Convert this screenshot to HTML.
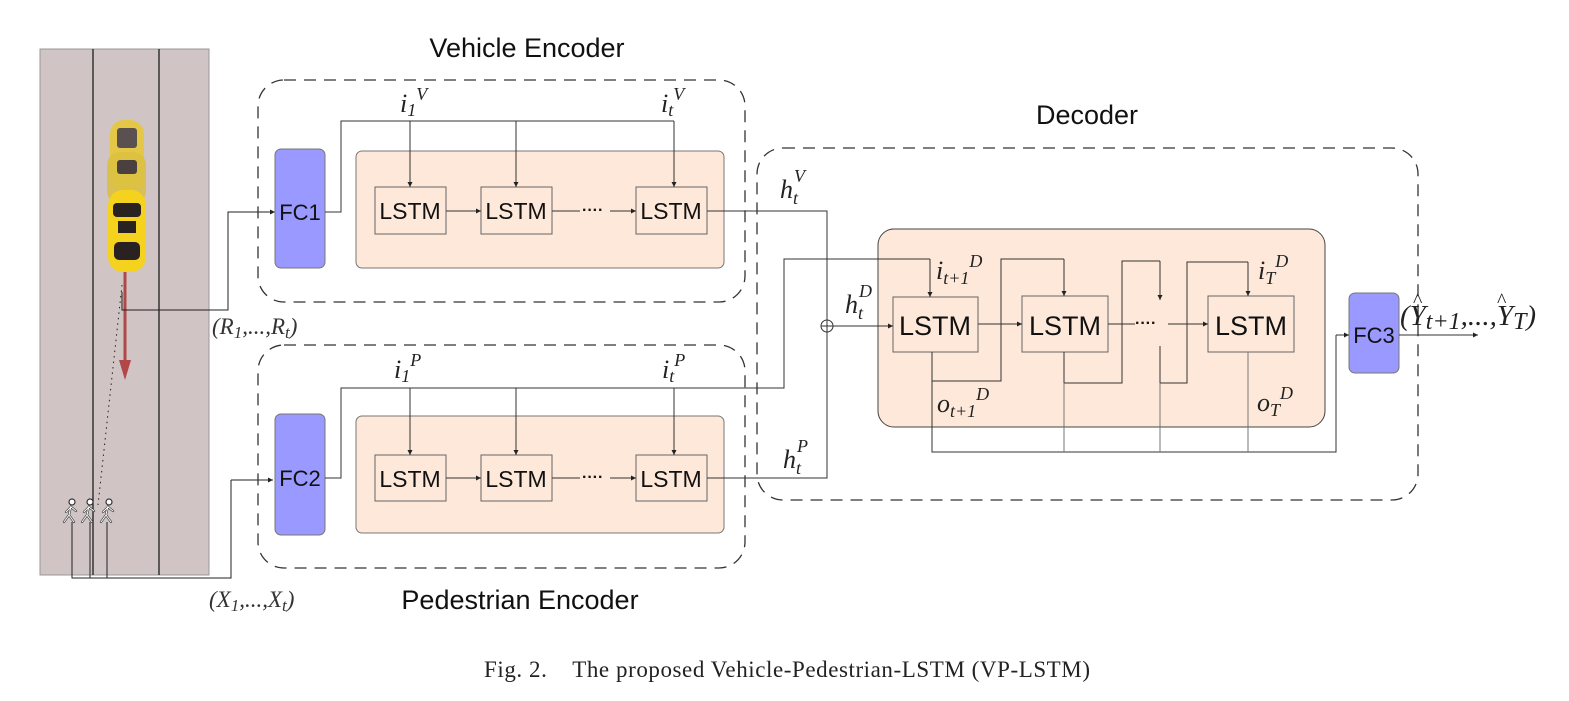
<!DOCTYPE html>
<html><head><meta charset="utf-8"><style>
html,body{margin:0;padding:0;background:#fff;}
svg{display:block;}
.s{font-family:"Liberation Sans",sans-serif;}
.m{font-family:"Liberation Serif",serif;font-style:italic;}
</style></head><body>
<svg width="1569" height="701" viewBox="0 0 1569 701" xmlns="http://www.w3.org/2000/svg">
<defs>
<marker id="a" markerWidth="6" markerHeight="6" refX="5" refY="3" orient="auto" markerUnits="userSpaceOnUse"><path d="M0,0.5 L5,3 L0,5.5z" fill="#222"/></marker>
<g id="ped" fill="#fff" stroke="#333" stroke-width="1.2" stroke-linecap="round">
<circle cx="4" cy="-16" r="3"/>
<path d="M3,-12 L1,-3 L-4,4 M1,-3 L6,4 M3,-11 L-2,-6 M3,-11 L8,-7" fill="none" stroke-width="2.2"/>
<path d="M3,-12 L1,-3 L-4,4 M1,-3 L6,4 M3,-11 L-2,-6 M3,-11 L8,-7" fill="none" stroke="#fff" stroke-width="1"/>
</g>
</defs>
<rect x="40" y="49" width="169" height="526" fill="#d0c4c4" stroke="#999"/>
<line x1="93" y1="49" x2="93" y2="575" stroke="#111" stroke-width="1.2"/>
<line x1="159" y1="49" x2="159" y2="575" stroke="#111" stroke-width="1.2"/>
<rect x="110" y="120" width="34" height="70" rx="14" fill="#e8c830" opacity="0.85"/>
<rect x="117" y="128" width="20" height="20" rx="3" fill="#5a5050"/>
<rect x="107" y="152" width="39" height="52" rx="13" fill="#dcc040" opacity="0.85"/>
<rect x="117" y="160" width="20" height="14" rx="3" fill="#4a4040"/>
<rect x="108" y="190" width="38" height="82" rx="15" fill="#f5d21e"/>
<rect x="113" y="203" width="28" height="14" rx="4" fill="#2a2220"/>
<rect x="118" y="221" width="18" height="12" fill="#2a2220"/>
<rect x="114" y="242" width="26" height="18" rx="5" fill="#2a2220"/>
<line x1="125" y1="272" x2="125" y2="366" stroke="#b04848" stroke-width="3"/>
<path d="M119,360 L131,360 L125,380z" fill="#b04848"/>
<line x1="122" y1="285" x2="98" y2="505" stroke="#222" stroke-dasharray="1.5,4"/>
<use href="#ped" x="68" y="518"/><use href="#ped" x="86" y="518"/><use href="#ped" x="105" y="518"/>
<g fill="none" stroke="#222" stroke-width="1">
<polyline points="72,522 72,578 231,578 231,480" />
<line x1="90" y1="522" x2="90" y2="578"/>
<line x1="107" y1="522" x2="107" y2="578"/>
<polyline points="231,480 273,480" marker-end="url(#a)"/>
<polyline points="122,292 122,310 228,310 228,212 275,212" marker-end="url(#a)"/>
</g>
<text class="m" x="212" y="334" font-size="23" fill="#333">(R<tspan font-size="17" dy="4">1</tspan><tspan dy="-4">,...,R</tspan><tspan font-size="17" dy="4">t</tspan><tspan dy="-4">)</tspan></text>
<text class="m" x="209" y="607" font-size="23" fill="#333">(X<tspan font-size="17" dy="4">1</tspan><tspan dy="-4">,...,X</tspan><tspan font-size="17" dy="4">t</tspan><tspan dy="-4">)</tspan></text>

<g fill="none" stroke="#333" stroke-width="1.3" stroke-dasharray="12,8">
<rect x="258" y="80" width="487" height="222" rx="26"/>
<rect x="258" y="345" width="487" height="223" rx="26"/>
<rect x="757" y="148" width="661" height="352" rx="26"/>
</g>
<text class="s" x="527" y="57" font-size="27" text-anchor="middle" fill="#111">Vehicle Encoder</text>
<text class="s" x="520" y="609" font-size="27" text-anchor="middle" fill="#111">Pedestrian Encoder</text>
<text class="s" x="1087" y="124" font-size="27" text-anchor="middle" fill="#111">Decoder</text>

<g stroke="#777" stroke-width="1">
<rect x="275" y="149" width="50" height="119" rx="6" fill="#9999ff"/>
<rect x="275" y="414" width="50" height="121" rx="6" fill="#9999ff"/>
<rect x="1349" y="293" width="50" height="80" rx="6" fill="#9999ff"/>
<rect x="356" y="151" width="368" height="117" rx="6" fill="#fde8d9"/>
<rect x="356" y="416" width="368" height="117" rx="6" fill="#fde8d9"/>
<rect x="878" y="229" width="447" height="198" rx="16" fill="#fde8d9" stroke="#444"/>
</g>
<g class="s" font-size="22" text-anchor="middle" fill="#111">
<text x="300" y="220">FC1</text><text x="300" y="486">FC2</text><text x="1374" y="343">FC3</text>
</g>
<g fill="none" stroke="#666" stroke-width="1">
<rect x="375" y="187" width="71" height="47"/><rect x="481" y="187" width="71" height="47"/><rect x="636" y="187" width="71" height="47"/>
<rect x="375" y="455" width="71" height="46"/><rect x="481" y="455" width="71" height="46"/><rect x="636" y="455" width="71" height="46"/>
<rect x="893" y="297" width="85" height="55"/><rect x="1022" y="296" width="86" height="56"/><rect x="1208" y="296" width="86" height="56"/>
</g>
<g class="s" font-size="23" text-anchor="middle" fill="#111">
<text x="410" y="219">LSTM</text><text x="516" y="219">LSTM</text><text x="671" y="219">LSTM</text>
<text x="410" y="487">LSTM</text><text x="516" y="487">LSTM</text><text x="671" y="487">LSTM</text>
</g>
<g class="s" font-size="27" text-anchor="middle" fill="#111">
<text x="935" y="335">LSTM</text><text x="1065" y="335">LSTM</text><text x="1251" y="335">LSTM</text>
</g>
<g fill="none" stroke="#333" stroke-width="1">
<polyline points="325,212 341,212 341,121 674,121"/>
<line x1="410" y1="121" x2="410" y2="187" marker-end="url(#a)"/>
<line x1="516" y1="121" x2="516" y2="187" marker-end="url(#a)"/>
<line x1="674" y1="121" x2="674" y2="187" marker-end="url(#a)"/>
<line x1="446" y1="211" x2="481" y2="211" marker-end="url(#a)"/>
<line x1="552" y1="211" x2="580" y2="211"/><line x1="610" y1="211" x2="636" y2="211" marker-end="url(#a)"/>
<polyline points="707,211 827,211 827,320"/>
<polyline points="325,478 341,478 341,388 784,388 784,259 930,259"/>
<line x1="930" y1="259" x2="930" y2="297" marker-end="url(#a)"/>
<line x1="410" y1="388" x2="410" y2="455" marker-end="url(#a)"/>
<line x1="516" y1="388" x2="516" y2="455" marker-end="url(#a)"/>
<line x1="674" y1="388" x2="674" y2="455" marker-end="url(#a)"/>
<line x1="446" y1="478" x2="481" y2="478" marker-end="url(#a)"/>
<line x1="552" y1="478" x2="580" y2="478"/><line x1="610" y1="478" x2="636" y2="478" marker-end="url(#a)"/>
<polyline points="707,478 827,478 827,332"/>
<circle cx="827" cy="326" r="6"/><line x1="821" y1="326" x2="833" y2="326"/><line x1="827" y1="320" x2="827" y2="332"/>
<line x1="833" y1="326" x2="893" y2="326" marker-end="url(#a)"/>
<line x1="978" y1="324" x2="1022" y2="324" marker-end="url(#a)"/>
<line x1="1108" y1="324" x2="1135" y2="324"/><line x1="1168" y1="324" x2="1208" y2="324" marker-end="url(#a)"/>
<polyline points="932,352 932,381 1001,381 1001,259 1064,259"/>
<line x1="1064" y1="259" x2="1064" y2="296" marker-end="url(#a)"/>
<polyline points="1064,352 1064,383 1122,383 1122,261 1160,261"/>
<line x1="1160" y1="261" x2="1160" y2="300" marker-end="url(#a)"/>
<polyline points="1160,346 1160,383 1187,383 1187,262 1248,262"/>
<line x1="1248" y1="262" x2="1248" y2="296" marker-end="url(#a)"/>
<polyline points="932,381 932,452 1336,452 1336,335" />
<line x1="1336" y1="335" x2="1349" y2="335" marker-end="url(#a)"/>
<line x1="1064" y1="383" x2="1064" y2="452" stroke="#777"/>
<line x1="1160" y1="383" x2="1160" y2="452" stroke="#777"/>
<line x1="1248" y1="352" x2="1248" y2="452" stroke="#777"/>
<line x1="1399" y1="335" x2="1478" y2="335" marker-end="url(#a)"/>
</g>
<g font-family="Liberation Sans" font-size="16" font-weight="bold" fill="#111">
<text x="582" y="215">····</text><text x="582" y="482">····</text><text x="1135" y="328">····</text>
</g>
<g class="m" fill="#222" font-size="26">
<text x="400" y="112">i<tspan font-size="18" dy="4">1</tspan><tspan font-size="18" dy="-16">V</tspan></text>
<text x="661" y="112">i<tspan font-size="18" dy="4">t</tspan><tspan font-size="18" dy="-16">V</tspan></text>
<text x="394" y="378">i<tspan font-size="18" dy="4">1</tspan><tspan font-size="18" dy="-16">P</tspan></text>
<text x="662" y="378">i<tspan font-size="18" dy="4">t</tspan><tspan font-size="18" dy="-16">P</tspan></text>
<text x="780" y="198">h<tspan font-size="18" dy="6">t</tspan><tspan font-size="18" dx="-4" dy="-22">V</tspan></text>
<text x="783" y="468">h<tspan font-size="18" dy="6">t</tspan><tspan font-size="18" dx="-4" dy="-22">P</tspan></text>
<text x="845" y="313">h<tspan font-size="18" dy="6">t</tspan><tspan font-size="18" dx="-4" dy="-22">D</tspan></text>
<text x="936" y="279">i<tspan font-size="18" dy="5">t+1</tspan><tspan font-size="18" dy="-17">D</tspan></text>
<text x="1258" y="279">i<tspan font-size="18" dy="5">T</tspan><tspan font-size="18" dy="-17">D</tspan></text>
<text x="937" y="412">o<tspan font-size="18" dy="5">t+1</tspan><tspan font-size="18" dy="-17">D</tspan></text>
<text x="1257" y="411">o<tspan font-size="18" dy="5">T</tspan><tspan font-size="18" dy="-17">D</tspan></text>
<text x="1400" y="325" font-size="29">(Y<tspan font-size="24" dy="4">t+1</tspan><tspan dy="-4">,...,Y</tspan><tspan font-size="24" dy="4">T</tspan><tspan dy="-4">)</tspan></text>
<text x="1413" y="307" font-size="20" font-style="normal">^</text>
<text x="1497" y="307" font-size="20" font-style="normal">^</text>
</g>
<text x="484" y="677" font-family="Liberation Serif,serif" font-size="23" fill="#222" textLength="606" lengthAdjust="spacing" xml:space="preserve">Fig. 2.    The proposed Vehicle-Pedestrian-LSTM (VP-LSTM)</text>
</svg>
</body></html>
